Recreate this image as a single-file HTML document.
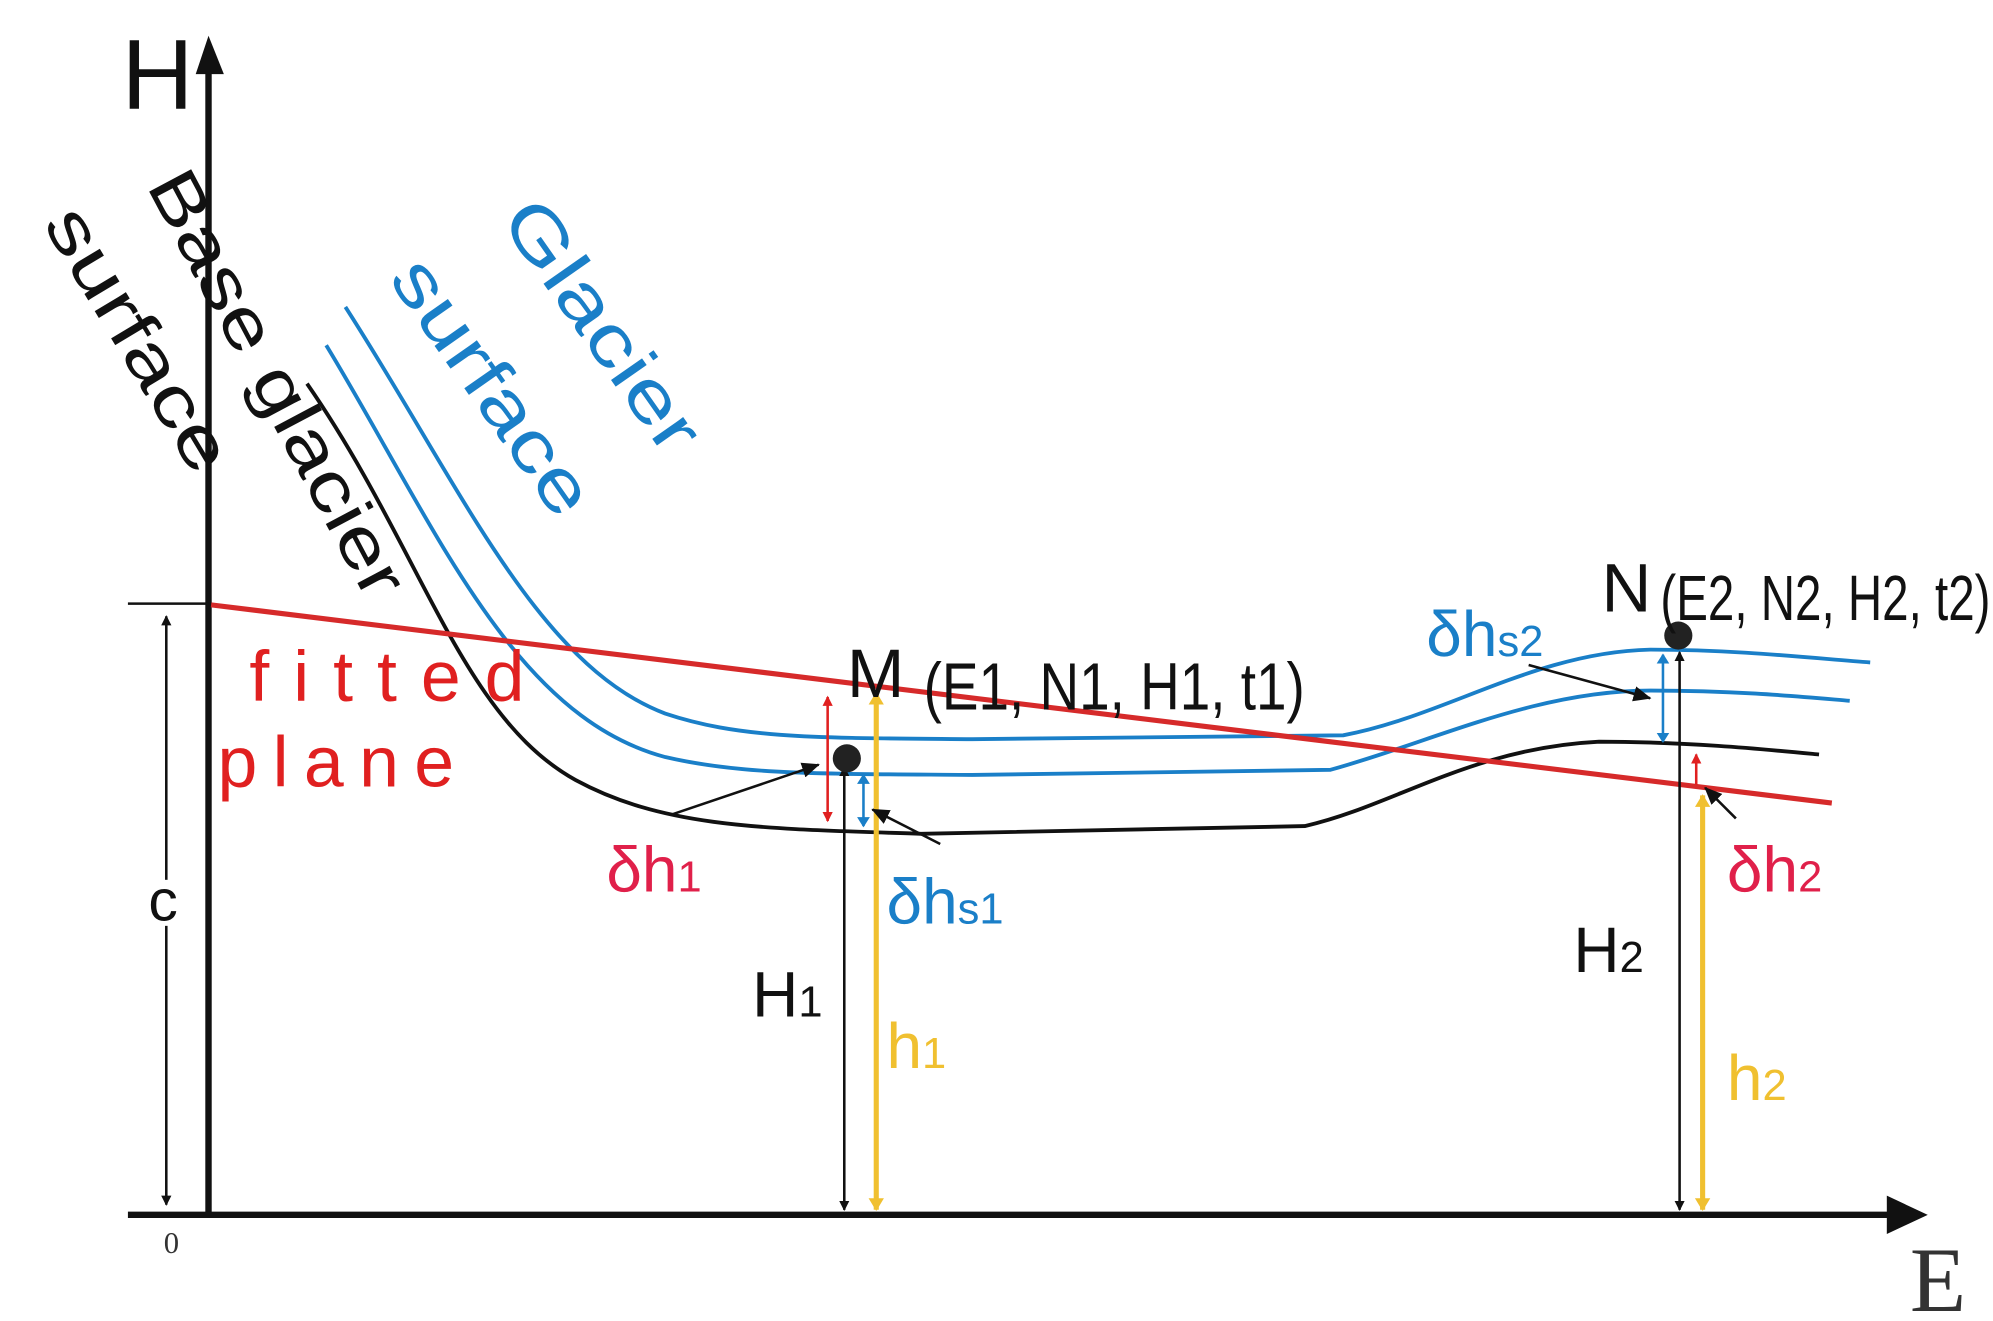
<!DOCTYPE html>
<html><head><meta charset="utf-8"><style>
html,body{margin:0;padding:0;background:#fff;}
svg{display:block;}
text{font-family:"Liberation Sans",sans-serif;}
</style></head><body>
<svg width="1993" height="1321" viewBox="0 0 1558 1033" preserveAspectRatio="none" xmlns="http://www.w3.org/2000/svg">
<defs>
<marker id="ak" markerWidth="8" markerHeight="8" refX="7" refY="4" orient="auto-start-reverse" markerUnits="userSpaceOnUse"><path d="M0,0 L8,4 L0,8 z" fill="#111"/></marker>
<marker id="ak2" markerWidth="14" markerHeight="12" refX="13" refY="6" orient="auto-start-reverse" markerUnits="userSpaceOnUse"><path d="M0,0 L14,6 L0,12 z" fill="#111"/></marker>
<marker id="ay" markerWidth="10" markerHeight="12" refX="9" refY="6" orient="auto-start-reverse" markerUnits="userSpaceOnUse"><path d="M0,0 L10,6 L0,12 z" fill="#f0c030"/></marker>
<marker id="ar" markerWidth="8" markerHeight="8" refX="7" refY="4" orient="auto-start-reverse" markerUnits="userSpaceOnUse"><path d="M0,0 L8,4 L0,8 z" fill="#e02020"/></marker>
<marker id="ab" markerWidth="8" markerHeight="10" refX="7" refY="5" orient="auto-start-reverse" markerUnits="userSpaceOnUse"><path d="M0,0 L8,5 L0,10 z" fill="#1a7fc8"/></marker>
</defs>
<line x1="163" y1="952" x2="163" y2="45" stroke="#111" stroke-width="5"/>
<path d="M153,58 L163,28 L175,58 z" fill="#111"/>
<line x1="100" y1="950" x2="1480" y2="950" stroke="#111" stroke-width="5"/>
<path d="M1475,935 L1507,950 L1475,965 z" fill="#111"/>
<line x1="100" y1="472" x2="163" y2="472" stroke="#111" stroke-width="2"/>
<text x="95" y="85" font-size="78" fill="#111">H</text>
<text x="1493" y="1025" font-size="72" fill="#333" style="font-family:'Liberation Serif',serif">E</text>
<text x="128" y="980" font-size="24" fill="#333" style="font-family:'Liberation Serif',serif">0</text>
<line x1="130" y1="482" x2="130" y2="942" stroke="#111" stroke-width="2" marker-start="url(#ak)" marker-end="url(#ak)"/>
<rect x="118" y="688" width="24" height="36" fill="#fff"/>
<text x="116" y="720" font-size="46" fill="#111">c</text>
<path d="M240,300 C330,430 360,560 450,610 C520,648 600,648 720,652 L1020,646 C1090,630 1150,585 1250,580 C1320,580 1380,586 1422,590" fill="none" stroke="#111" stroke-width="3"/>
<path d="M270,240 C360,380 420,520 520,558 C580,578 640,577 760,578 L1050,575 C1130,560 1200,510 1290,508 C1360,508 1420,515 1462,518" fill="none" stroke="#1a7fc8" stroke-width="3"/>
<path d="M255,270 C340,410 400,560 520,592 C580,606 640,605 760,606 L1040,602 C1120,580 1200,540 1290,540 C1360,540 1410,545 1446,548" fill="none" stroke="#1a7fc8" stroke-width="3"/>
<line x1="165" y1="473" x2="1432" y2="628" stroke="#d62a2a" stroke-width="4"/>
<line x1="647" y1="545" x2="647" y2="642" stroke="#e02020" stroke-width="2" marker-start="url(#ar)" marker-end="url(#ar)"/>
<line x1="660" y1="600" x2="660" y2="946" stroke="#111" stroke-width="2" marker-start="url(#ak)" marker-end="url(#ak)"/>
<line x1="675" y1="606" x2="675" y2="646" stroke="#1a7fc8" stroke-width="2" marker-start="url(#ab)" marker-end="url(#ab)"/>
<line x1="685" y1="542" x2="685" y2="946" stroke="#f0c030" stroke-width="4" marker-start="url(#ay)" marker-end="url(#ay)"/>
<circle cx="662" cy="593" r="11" fill="#222"/>
<line x1="525" y1="637" x2="640" y2="598" stroke="#111" stroke-width="2" marker-end="url(#ak2)"/>
<line x1="735" y1="660" x2="682" y2="633" stroke="#111" stroke-width="2" marker-end="url(#ak2)"/>
<line x1="1300" y1="512" x2="1300" y2="580" stroke="#1a7fc8" stroke-width="2" marker-start="url(#ab)" marker-end="url(#ab)"/>
<line x1="1313" y1="510" x2="1313" y2="946" stroke="#111" stroke-width="2" marker-start="url(#ak)" marker-end="url(#ak)"/>
<line x1="1326" y1="590" x2="1326" y2="614" stroke="#e02020" stroke-width="2" marker-start="url(#ar)"/>
<line x1="1331" y1="622" x2="1331" y2="946" stroke="#f0c030" stroke-width="4" marker-start="url(#ay)" marker-end="url(#ay)"/>
<circle cx="1312" cy="497" r="11" fill="#222"/>
<line x1="1195" y1="520" x2="1290" y2="546" stroke="#111" stroke-width="2" marker-end="url(#ak2)"/>
<line x1="1357" y1="640" x2="1333" y2="616" stroke="#111" stroke-width="2" marker-end="url(#ak2)"/>
<g transform="translate(114,145) rotate(62)"><text x="0" y="0" font-size="54" fill="#111" textLength="370" lengthAdjust="spacingAndGlyphs">Base glacier</text></g>
<g transform="translate(33,175) rotate(59)"><text x="0" y="0" font-size="54" fill="#111" textLength="232" lengthAdjust="spacingAndGlyphs">surface</text></g>
<g transform="translate(390,172) rotate(55)"><text x="0" y="0" font-size="56" fill="#1a7fc8" textLength="228" lengthAdjust="spacingAndGlyphs">Glacier</text></g>
<g transform="translate(303,218) rotate(55)"><text x="0" y="0" font-size="56" fill="#1a7fc8" textLength="232" lengthAdjust="spacingAndGlyphs">surface</text></g>
<text x="195" y="548" font-size="56" fill="#e02020" textLength="215" lengthAdjust="spacing">fitted</text>
<text x="170" y="615" font-size="56" fill="#e02020" textLength="185" lengthAdjust="spacing">plane</text>
<text x="662" y="545" font-size="54" fill="#111">M</text>
<text x="722" y="555" font-size="52" fill="#111" textLength="298" lengthAdjust="spacingAndGlyphs">(E1, N1, H1, t1)</text>
<text x="1252" y="478" font-size="54" fill="#111">N</text>
<text x="1298" y="485" font-size="50" fill="#111" textLength="258" lengthAdjust="spacingAndGlyphs">(E2, N2, H2, t2)</text>
<text x="474" y="697" font-size="50" fill="#e0204a">δh<tspan font-size="34">1</tspan></text>
<text x="693" y="722" font-size="50" fill="#1a7fc8">δh<tspan font-size="34">s1</tspan></text>
<text x="1115" y="513" font-size="50" fill="#1a7fc8">δh<tspan font-size="34">s2</tspan></text>
<text x="1350" y="697" font-size="50" fill="#e0204a">δh<tspan font-size="34">2</tspan></text>
<text x="588" y="795" font-size="50" fill="#111">H<tspan font-size="34">1</tspan></text>
<text x="1230" y="760" font-size="50" fill="#111">H<tspan font-size="34">2</tspan></text>
<text x="693" y="835" font-size="50" fill="#f0c030">h<tspan font-size="34">1</tspan></text>
<text x="1350" y="860" font-size="50" fill="#f0c030">h<tspan font-size="34">2</tspan></text>
</svg>
</body></html>
